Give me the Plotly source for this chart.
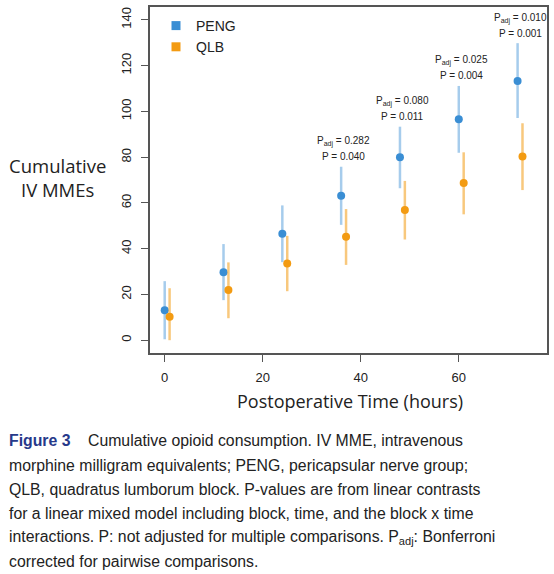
import plotly.graph_objects as go

# ---- data ----
times = [0, 12, 24, 36, 48, 60, 72]
peng_mean = [13.1, 29.7, 46.5, 63.1, 79.9, 96.5, 113.3]
peng_lo = [0.4, 17.5, 34.1, 50.4, 66.4, 81.9, 97.1]
peng_hi = [25.8, 42.0, 58.9, 75.8, 93.3, 111.1, 129.8]
qlb_mean = [10.2, 21.9, 33.5, 45.2, 56.9, 68.7, 80.3]
qlb_lo = [0.0, 9.6, 21.4, 32.9, 44.0, 55.0, 65.6]
qlb_hi = [22.7, 34.0, 45.6, 57.3, 69.6, 82.1, 94.8]
qlb_offset = 1
p_times = [36, 48, 60, 72]
p_adj = ["0.282", "0.080", "0.025", "0.010"]
p_raw = ["0.040", "0.011", "0.004", "0.001"]
x_ticks = [0, 20, 40, 60]
y_ticks = [0, 20, 40, 60, 80, 100, 120, 140]
caption_lines = [
    "<b><span style='color:#26398a'>Figure 3</span></b>&nbsp;&nbsp;&nbsp; Cumulative opioid consumption. IV MME, intravenous",
    "morphine milligram equivalents; PENG, pericapsular nerve group;",
    "QLB, quadratus lumborum block. P-values are from linear contrasts",
    "for a linear mixed model including block, time, and the block x time",
    "interactions. P: not adjusted for multiple comparisons. P<sub>adj</sub>: Bonferroni",
    "corrected for pairwise comparisons.",
]

BLUE = "#3a8ed4"
BLUE_BAR = "rgba(58,142,212,0.45)"
ORANGE = "#f39b12"
ORANGE_BAR = "rgba(243,155,18,0.55)"
TXT = "#222"

fig = go.Figure()

qlb_x = [t + qlb_offset for t in times]

fig.add_trace(go.Scatter(
    x=times, y=peng_mean, mode="markers", showlegend=False,
    marker=dict(color=BLUE, size=8),
    error_y=dict(type="data", symmetric=False,
                 array=[h - m for h, m in zip(peng_hi, peng_mean)],
                 arrayminus=[m - l for m, l in zip(peng_mean, peng_lo)],
                 color=BLUE_BAR, thickness=2.5, width=0),
))
fig.add_trace(go.Scatter(
    x=qlb_x, y=qlb_mean, mode="markers", showlegend=False,
    marker=dict(color=ORANGE, size=8),
    error_y=dict(type="data", symmetric=False,
                 array=[h - m for h, m in zip(qlb_hi, qlb_mean)],
                 arrayminus=[m - l for m, l in zip(qlb_mean, qlb_lo)],
                 color=ORANGE_BAR, thickness=2.5, width=0),
))
# legend entries
fig.add_trace(go.Scatter(x=[None], y=[None], mode="markers", name="PENG",
                         marker=dict(color=BLUE, size=9, symbol="square")))
fig.add_trace(go.Scatter(x=[None], y=[None], mode="markers", name="QLB",
                         marker=dict(color=ORANGE, size=9, symbol="square")))

PFONT = dict(family="Liberation Sans, Arial", size=10, color=TXT)
annots = []
for t, pa, pr in zip(p_times, p_adj, p_raw):
    hi = peng_hi[times.index(t)]
    annots.append(dict(x=t + 0.5, y=hi, xref="x", yref="y", showarrow=False,
                       text="P<sub>adj</sub> = " + pa, yshift=25, yanchor="middle",
                       xanchor="center", font=PFONT))
    annots.append(dict(x=t + 0.5, y=hi, xref="x", yref="y", showarrow=False,
                       text="P = " + pr, yshift=10, yanchor="middle",
                       xanchor="center", font=PFONT))

W, H = 554, 574
ml, mr, mt, mb = 150, 7, 7, 221
pw, ph = W - ml - mr, H - mt - mb


def px(x, y):
    return (x - ml) / pw, (H - mb - y) / ph


TFONT = "Open Sans, Noto Sans, sans-serif"
x0, y0 = px(57, 178)
annots.append(dict(x=x0, y=y0, xref="paper", yref="paper", showarrow=False,
                   xanchor="center", yanchor="middle",
                   text="Cumulative<br>IV MMEs", align="center",
                   font=dict(family=TFONT, size=18.5, color=TXT)))
x0, y0 = px(350, 401)
annots.append(dict(x=x0, y=y0, xref="paper", yref="paper", showarrow=False,
                   xanchor="center", yanchor="middle",
                   text="Postoperative Time (hours)",
                   font=dict(family=TFONT, size=18, color=TXT)))
cap_y = [440, 465, 489, 513, 537, 561]
for line, yy in zip(caption_lines, cap_y):
    x0, y0 = px(7, yy)
    annots.append(dict(x=x0, y=y0, xref="paper", yref="paper", showarrow=False,
                       text=line, align="left", xanchor="left", yanchor="middle",
                       font=dict(family="Liberation Sans, Arial, sans-serif",
                                 size=15.8, color=TXT)))

lx, ly = px(156, 10)
fig.update_layout(
    width=W, height=H,
    margin=dict(l=ml, r=mr, t=mt, b=mb, pad=0, autoexpand=False),
    plot_bgcolor="white", paper_bgcolor="white",
    annotations=annots,
    showlegend=True,
    legend=dict(x=lx, y=ly, xanchor="left", yanchor="top",
                bgcolor="rgba(0,0,0,0)",
                font=dict(family="Liberation Sans, Arial", size=14, color=TXT),
                tracegroupgap=0, itemwidth=30),
    xaxis=dict(range=[-3, 78], tickvals=x_ticks, showgrid=False, zeroline=False,
               showline=True, mirror=True, linecolor="#555", linewidth=1.5,
               ticks="outside", ticklen=7, tickcolor="#555", automargin=False,
               ticklabelstandoff=5,
               tickfont=dict(family="Liberation Sans, Arial", size=13, color=TXT)),
    yaxis=dict(range=[-5.6, 145.6], tickvals=y_ticks, showgrid=False, zeroline=False,
               showline=True, mirror=True, linecolor="#555", linewidth=1.5,
               ticks="outside", ticklen=7, tickcolor="#555", tickangle=-90,
               automargin=False, ticklabelstandoff=5,
               tickfont=dict(family="Liberation Sans, Arial", size=13, color=TXT)),
)

fig.write_html("out.html", config={"displayModeBar": False},
               post_script="document.body.style.margin='0';document.body.style.padding='0';")
